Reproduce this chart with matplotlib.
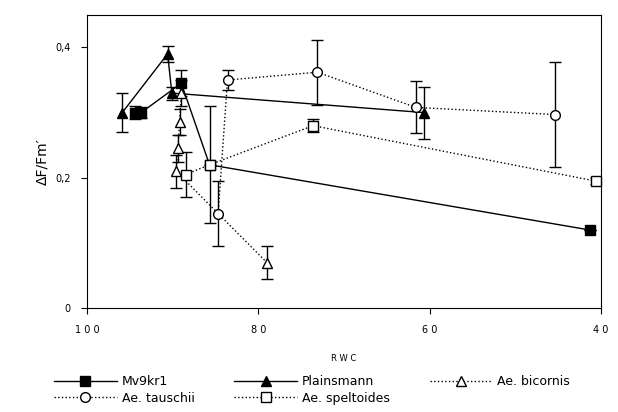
import matplotlib.pyplot as plt
from matplotlib.lines import Line2D

mv_x = [94.4, 93.7, 89.0, 85.7, 41.3]
mv_y = [0.30, 0.30, 0.345, 0.22, 0.12]
mv_e = [0.01, 0.008, 0.02, 0.09, 0.0]

pl_x = [95.9, 90.6, 90.1, 60.6]
pl_y = [0.30, 0.39, 0.33, 0.30]
pl_e = [0.03, 0.012, 0.01, 0.04]

bi_x = [89.0, 89.2, 89.4, 89.6, 79.0]
bi_y = [0.33, 0.285, 0.245, 0.21, 0.07]
bi_e = [0.02, 0.02, 0.02, 0.025, 0.025]

ta_x = [84.7, 83.6, 73.1, 61.6, 45.3]
ta_y = [0.145, 0.35, 0.362, 0.308, 0.297]
ta_e = [0.05, 0.015, 0.05, 0.04, 0.08]

sp_x = [88.5, 85.7, 73.6, 40.6]
sp_y = [0.205, 0.22, 0.28, 0.195]
sp_e = [0.035, 0.0, 0.01, 0.005]

series = [
    ("Mv9kr1", mv_x, mv_y, mv_e, "s", "black", "-"),
    ("Plainsmann", pl_x, pl_y, pl_e, "^", "black", "-"),
    ("Ae. bicornis", bi_x, bi_y, bi_e, "^", "white", ":"),
    ("Ae. tauschii", ta_x, ta_y, ta_e, "o", "white", ":"),
    ("Ae. speltoides", sp_x, sp_y, sp_e, "s", "white", ":"),
]

fig = plt.figure(figsize=(6.18, 4.12), dpi=100)
ax = fig.add_axes([0.141, 0.252, 0.831, 0.712])

handles = []
for label, xs, ys, es, marker, face, ls in series:
    ax.errorbar(xs, ys, yerr=es, fmt="none", ecolor="black", elinewidth=1,
                capsize=4, zorder=2)
    ax.plot(xs, ys, color="black", linestyle=ls, linewidth=1, zorder=3)
    ax.plot(xs, ys, linestyle="none", marker=marker, markersize=7,
            markerfacecolor=face, markeredgecolor="black", zorder=4,
            clip_on=False)
    handles.append(Line2D([0], [0], color="black", linestyle=ls, linewidth=1,
                          marker=marker, markersize=7, markerfacecolor=face,
                          markeredgecolor="black", label=label))

ax.set_xlim(100, 40)
ax.set_ylim(0, 0.45)
ax.set_xticks([100, 80, 60, 40])
ax.set_xticklabels(["1 0 0", "8 0", "6 0", "4 0"], fontsize=7)
ax.set_yticks([0, 0.2, 0.4])
ax.set_yticklabels(["0", "0,2", "0,4"], fontsize=7)
ax.set_xlabel("R W C", fontsize=6, labelpad=14)
ax.set_ylabel("ΔF/Fm′", fontsize=10)
ax.tick_params(direction="out", length=4, pad=8)

# legend fills row by row in the reference
order = [0, 3, 1, 4, 2]
fig.legend(handles=[handles[i] for i in order], loc="lower center", ncol=3,
           frameon=False, fontsize=9, bbox_to_anchor=(0.505, -0.01),
           handlelength=5, columnspacing=3.2, handletextpad=0.4,
           labelspacing=0.3)

fig.savefig("out.png", dpi=100)
